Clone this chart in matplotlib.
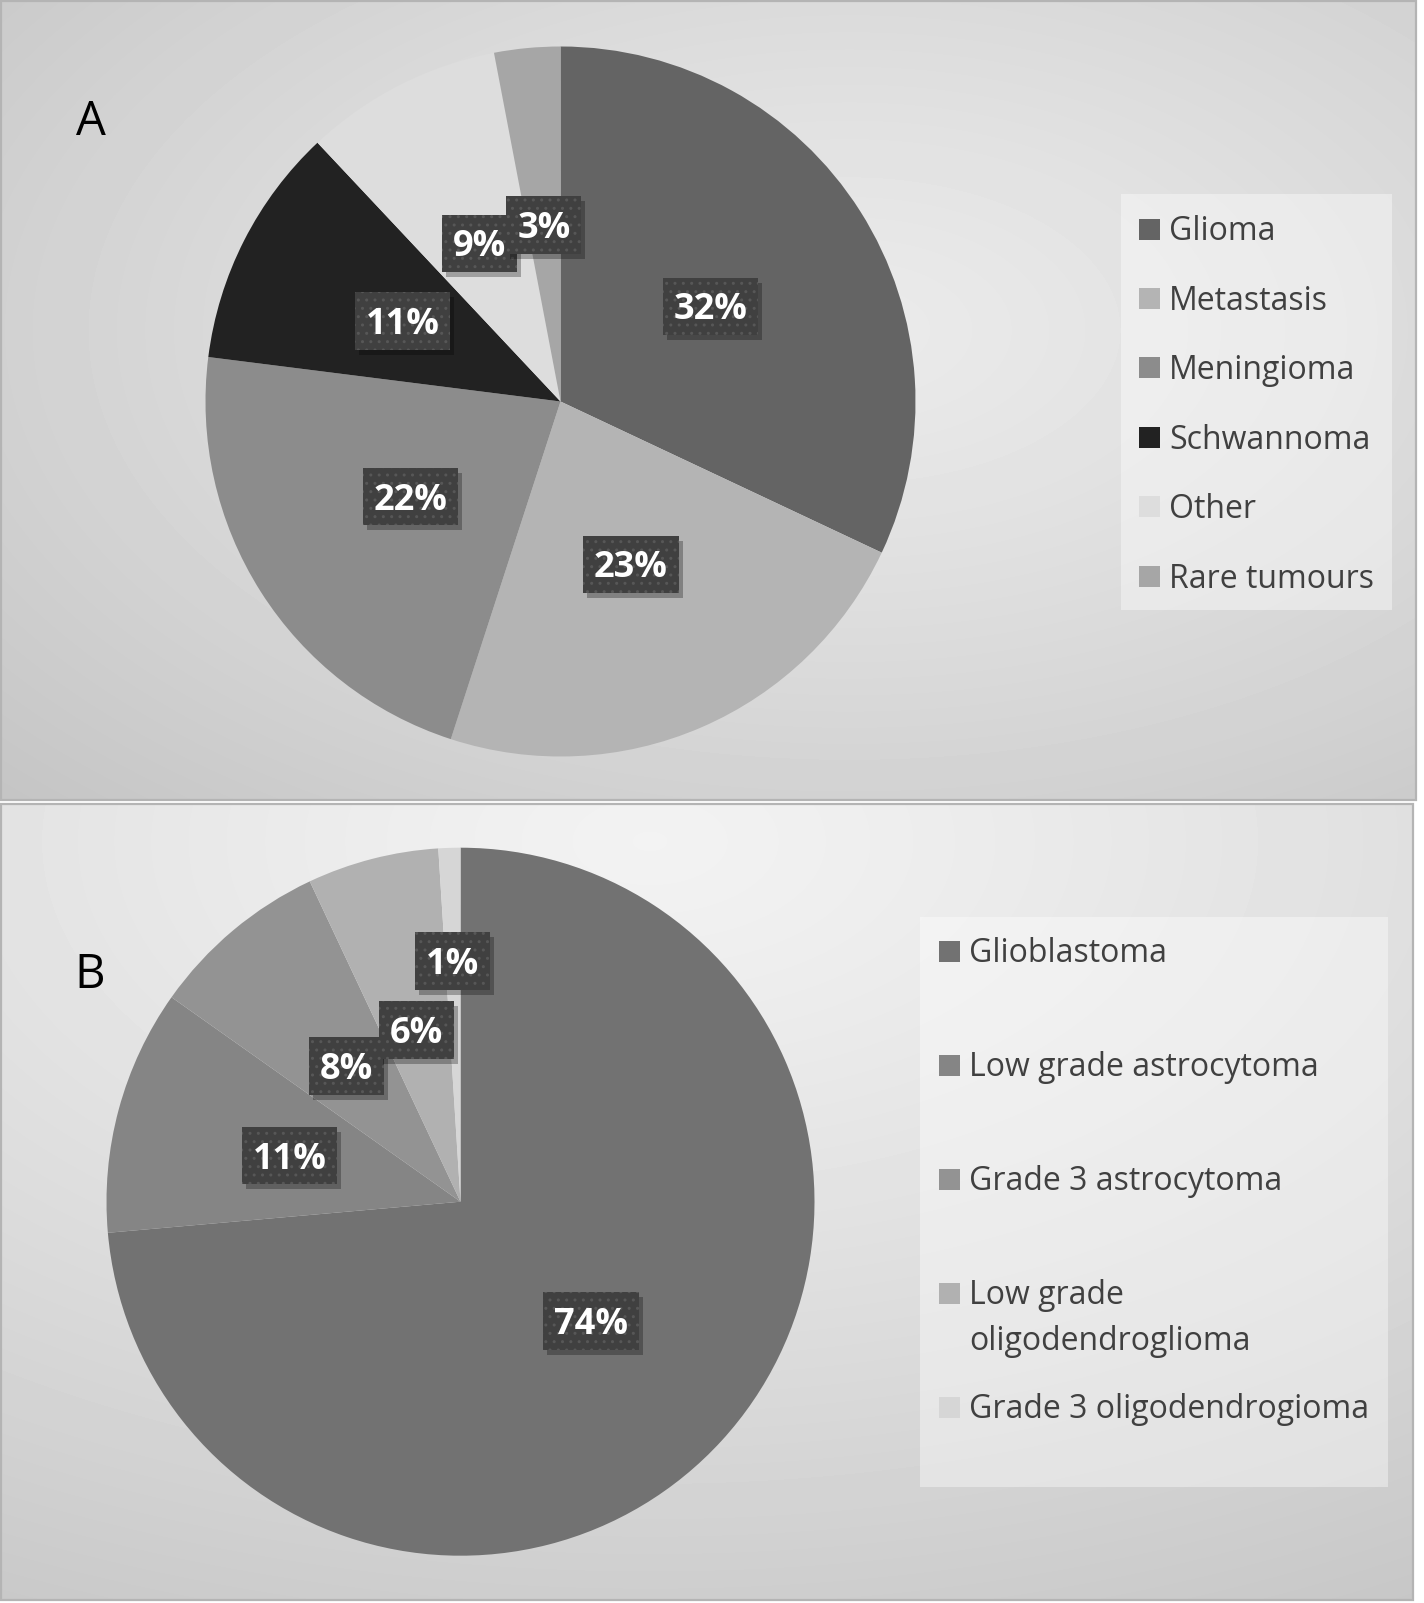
import numpy as np
import matplotlib.pyplot as plt
from matplotlib.patches import Rectangle
from matplotlib.transforms import ScaledTranslation

W, H = 1424, 1603

# Panel A: all tumours
A_LABELS = ["Glioma", "Metastasis", "Meningioma", "Schwannoma", "Other", "Rare tumours"]
A_VALUES = [32, 23, 22, 11, 9, 3]
A_COLORS = ["#646464", "#b4b4b4", "#8c8c8c", "#222222", "#dddddd", "#a6a6a6"]

# Panel B: gliomas
B_LABELS = ["Glioblastoma", "Low grade astrocytoma", "Grade 3 astrocytoma",
            "Low grade\noligodendroglioma", "Grade 3 oligodendrogioma"]
B_VALUES = [73.6, 11.2, 8.2, 6.0, 1.0]
B_COLORS = ["#727272", "#858585", "#939393", "#b1b1b1", "#d6d6d6"]

# label distance from centre (fraction of radius)
A_DIST = [0.5, 0.5, 0.5, 0.5, 0.5, 0.5]
B_DIST = [0.5, 0.5, 0.5, 0.5, 0.68]

TEXT = "#404040"

plt.rcParams["font.family"] = ["Open Sans", "DejaVu Sans"]

fig = plt.figure(figsize=(W / 100, H / 100), dpi=100, facecolor="white")
bg = fig.add_axes([0, 0, 1, 1])
bg.axis("off")


def panel(x0, x1, y0, y1, cx, cy, c_in, c_out):
    xs = np.linspace(x0, x1, 400)
    ys = np.linspace(y0, y1, 250)
    X, Y = np.meshgrid(xs, ys)
    d = np.hypot((X - cx) / (x1 - x0), (Y - cy) / (y1 - y0))
    d = d / d.max()
    v = c_in - (c_in - c_out) * d ** 1.2
    bg.imshow(v, cmap="gray", vmin=0, vmax=1, extent=(x0, x1, y1, y0),
              interpolation="bilinear", aspect="auto", zorder=0)
    bg.add_patch(Rectangle((x0 + 1, y0 + 1), x1 - x0 - 2, y1 - y0 - 2, fc="none",
                           ec="#b4b4b4", lw=1.6, zorder=1))


panel(0, 1417, 0, 801, 850, 330, 0.92, 0.77)
panel(0, 1414, 803, 1601, 650, 840, 0.95, 0.78)
bg.set_xlim(0, W)
bg.set_ylim(H, 0)

bg.text(76, 135, "A", fontsize=34, color="black", va="baseline", ha="left")
bg.text(74, 988, "B", fontsize=34, color="black", va="baseline", ha="left")


def draw_pie(cx, cy, r, values, colors, dists):
    ax = fig.add_axes([(cx - r) / W, 1 - (cy + r) / H, 2 * r / W, 2 * r / H])
    wedges, _ = ax.pie(values, colors=colors, startangle=90, counterclock=False,
                       radius=1, wedgeprops=dict(linewidth=0))
    ax.set_xlim(-1, 1)
    ax.set_ylim(-1, 1)
    ax.set_aspect("equal")
    ax.axis("off")
    shadow = ax.transData + ScaledTranslation(4 / 100, -5 / 100, fig.dpi_scale_trans)
    nudge = ax.transData + ScaledTranslation(0, -4 / 100, fig.dpi_scale_trans)
    kw = dict(ha="center", va="center", fontsize=26, fontweight="bold")
    for w, v, dist in zip(wedges, values, dists):
        ang = np.deg2rad((w.theta1 + w.theta2) / 2)
        x, y = dist * np.cos(ang), dist * np.sin(ang)
        s = f"{v:.0f}%"
        ax.text(x, y, s, transform=shadow, color="none",
                bbox=dict(boxstyle="square,pad=0.3", fc="black", ec="none", alpha=0.28), **kw)
        ax.text(x, y, s, color="none",
                bbox=dict(boxstyle="square,pad=0.3", fc="#404040", ec="#575757",
                          lw=0, hatch=".."), **kw)
        ax.text(x, y, s, transform=nudge, color="white", **kw)


def draw_legend(box, labels, colors, x_sq, y_first, step, line_step):
    bx, by, bw, bh = box
    bg.add_patch(Rectangle((bx, by), bw, bh, fc="white", alpha=0.4, ec="none", zorder=2))
    for i, (lab, col) in enumerate(zip(labels, colors)):
        yc = y_first + i * step
        bg.add_patch(Rectangle((x_sq, yc - 10.5), 21, 21, fc=col, ec="none", zorder=3))
        for k, line in enumerate(lab.split("\n")):
            bg.text(x_sq + 30, yc + 11.5 + k * line_step, line, fontsize=23,
                    color=TEXT, va="baseline", ha="left", zorder=3)


draw_pie(560.5, 401.5, 355, A_VALUES, A_COLORS, A_DIST)
draw_pie(460.5, 1201.7, 354, B_VALUES, B_COLORS, B_DIST)

draw_legend((1121, 194, 271, 416), A_LABELS, A_COLORS, 1139, 229, 69.4, 45)
draw_legend((920, 917, 468, 570), B_LABELS, B_COLORS, 939, 951, 114, 45)

fig.savefig("out.png", dpi=100, facecolor="white")
